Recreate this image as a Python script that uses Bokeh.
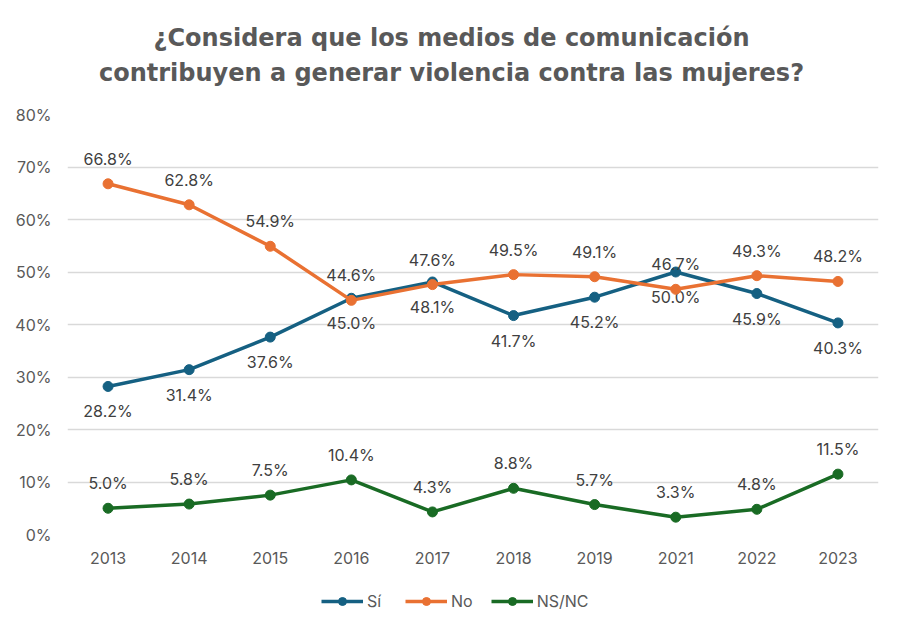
from bokeh.plotting import figure
from bokeh.layouts import column
from bokeh.models import (ColumnDataSource, FactorRange, Range1d, Label, Legend,
                          LegendItem, FixedTicker, CustomJSTickFormatter)
from bokeh.embed import file_html
from bokeh.resources import INLINE

years = ["2013", "2014", "2015", "2016", "2017", "2018", "2019", "2021", "2022", "2023"]
si = [28.2, 31.4, 37.6, 45.0, 48.1, 41.7, 45.2, 50.0, 45.9, 40.3]
no = [66.8, 62.8, 54.9, 44.6, 47.6, 49.5, 49.1, 46.7, 49.3, 48.2]
nsnc = [5.0, 5.8, 7.5, 10.4, 4.3, 8.8, 5.7, 3.3, 4.8, 11.5]
y_ticks = [0, 10, 20, 30, 40, 50, 60, 70, 80]
series_names = ["Sí", "No", "NS/NC"]

title1 = "¿Considera que los medios de comunicación"
title2 = "contribuyen a generar violencia contra las mujeres?"

FONT = "Inter"
TFONT = "DejaVu Sans"
TXT = "#595959"
LBL = "#404040"
COLORS = ["#156082", "#E97132", "#196B24"]
SIDES = [1, -1, -1]

W = 886


def strip(height, xr, yr):
    f = figure(width=W, height=height, x_range=xr, y_range=yr,
               output_backend="svg", toolbar_location=None, title=None,
               min_border_left=0, min_border_right=0, min_border_top=0, min_border_bottom=0)
    f.axis.visible = False
    f.grid.grid_line_color = None
    f.outline_line_color = None
    return f


# header strip with the two title lines
hd = strip(100, Range1d(0, 1), Range1d(0, 1))
for txt, yy in ((title1, 63), (title2, 28)):
    hd.add_layout(Label(x=384, y=yy, x_units="screen", y_units="screen", text=txt,
                        text_align="center", text_baseline="middle", text_font=TFONT,
                        text_font_size="24px", text_font_style="bold", text_color=TXT))

p = figure(width=W, height=472, x_range=FactorRange(*years), y_range=Range1d(0, 80),
           output_backend="svg", toolbar_location=None, title=None,
           min_border_left=67, min_border_right=8, min_border_top=14, min_border_bottom=38)
p.outline_line_color = None
p.background_fill_color = "white"
p.border_fill_color = "white"

p.xgrid.grid_line_color = None
p.ygrid.grid_line_color = "#d9d9d9"
p.ygrid.grid_line_width = 1.3
p.yaxis.ticker = FixedTicker(ticks=y_ticks)
p.yaxis.formatter = CustomJSTickFormatter(code="return tick + '%';")
for ax in (p.xaxis, p.yaxis):
    ax.axis_line_color = None
    ax.major_tick_line_color = None
    ax.minor_tick_line_color = None
    ax.major_label_text_font = FONT
    ax.major_label_text_font_size = "16px"
    ax.major_label_text_color = TXT
p.xaxis.major_label_standoff = 11
p.yaxis.major_label_standoff = 10

# legend strip (data lies outside its y range, only legend glyphs are visible)
lf = strip(43, FactorRange(*years), Range1d(200, 201))

items = []
for name, vals, color, side in zip(series_names, [si, no, nsnc], COLORS, SIDES):
    src = ColumnDataSource(dict(x=years, y=vals, lab=[f"{v:.1f}%" for v in vals]))
    p.line("x", "y", source=src, line_color=color, line_width=3.5)
    p.scatter("x", "y", source=src, size=10, fill_color=color, line_color=color)
    p.text("x", "y", text="lab", source=src, text_font={"value": FONT}, text_font_size="16px",
           text_color=LBL, text_align="center", text_baseline="middle", y_offset=25 * side)
    l = lf.line("x", "y", source=src, line_color=color, line_width=3.5)
    s = lf.scatter("x", "y", source=src, size=10, fill_color=color, line_color=color)
    items.append(LegendItem(label=name, renderers=[l, s]))

legend = Legend(items=items, orientation="horizontal", location=(254, 4),
                label_text_font=FONT, label_text_font_size="16px", label_text_color=TXT,
                glyph_width=42, label_standoff=4, spacing=18, border_line_color=None,
                background_fill_alpha=0, margin=0, padding=0)
lf.add_layout(legend)

open("out.html", "w").write(file_html(column(hd, p, lf, spacing=0), INLINE))
